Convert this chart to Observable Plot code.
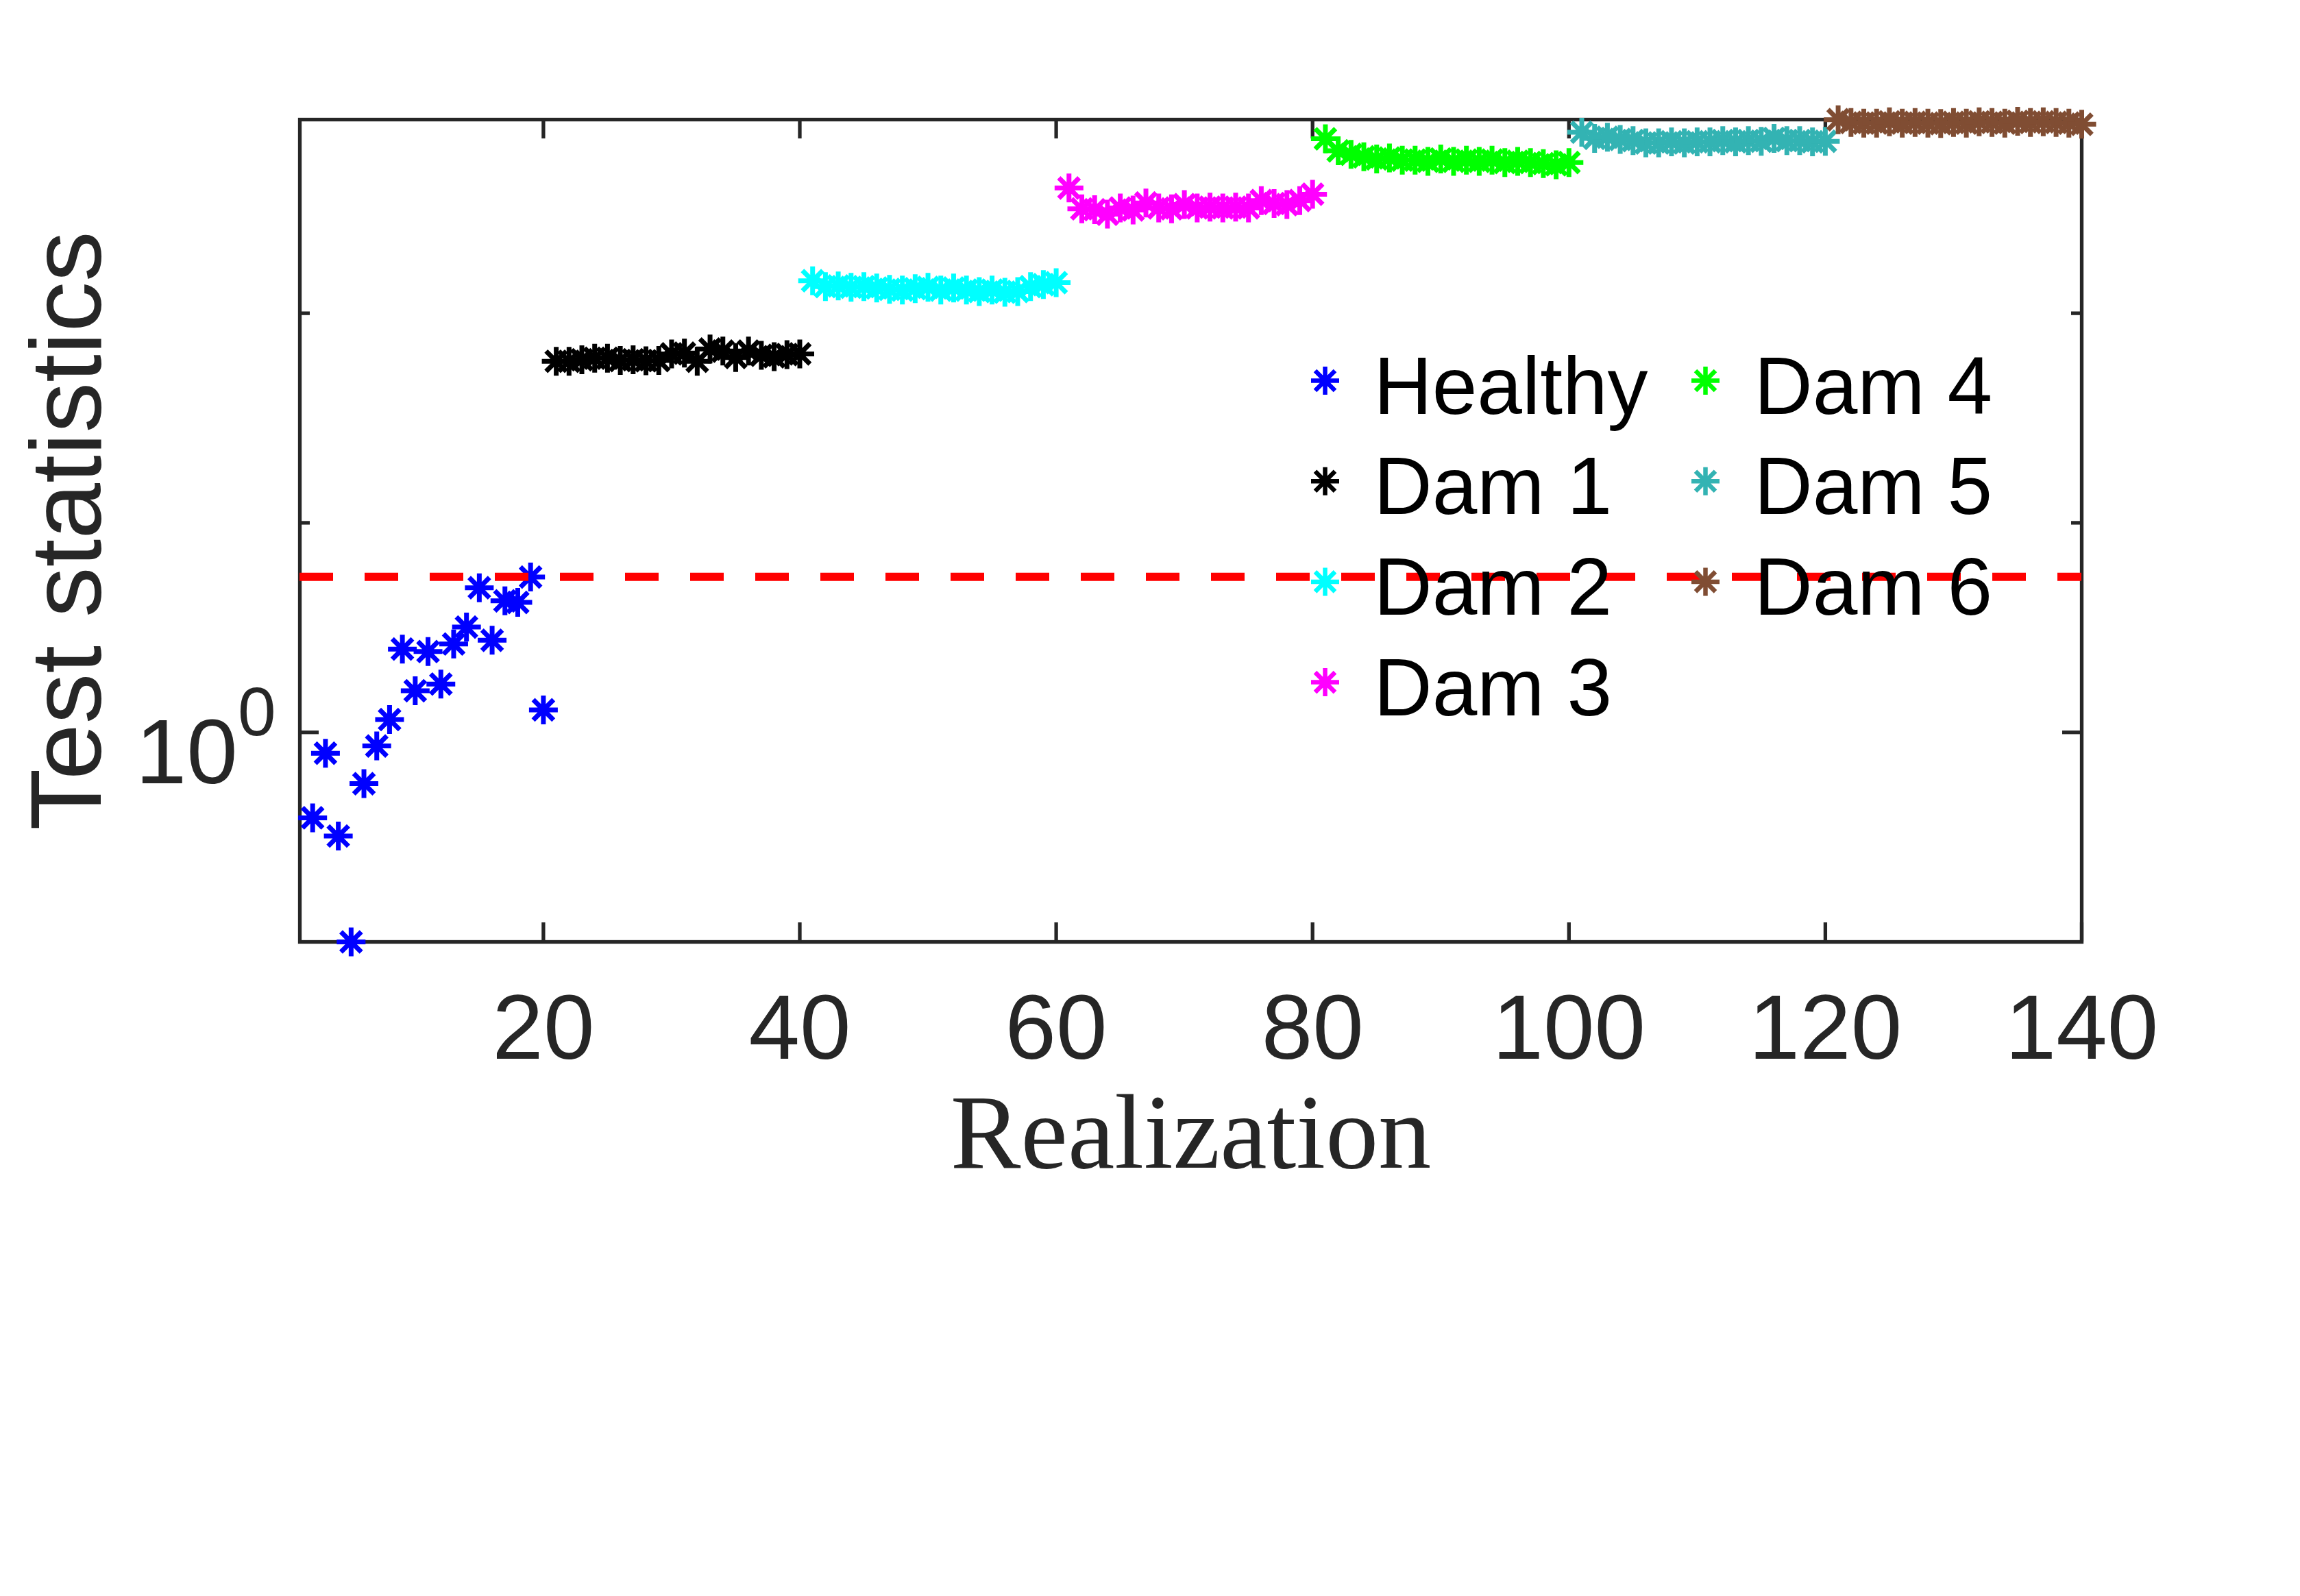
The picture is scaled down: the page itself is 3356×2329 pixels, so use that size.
<!DOCTYPE html>
<html>
<head>
<meta charset="utf-8">
<script src="https://cdn.jsdelivr.net/npm/d3@7"></script>
<script src="https://cdn.jsdelivr.net/npm/@observablehq/plot@0.6"></script>
<style>
  html, body { margin: 0; padding: 0; background: #ffffff; }
  #chart svg { display: block; }
</style>
</head>
<body>
<div id="chart"></div>
<script>
// ---------------- data ----------------
const seriesNames  = ["Healthy", "Dam 1", "Dam 2", "Dam 3", "Dam 4", "Dam 5", "Dam 6"];
const seriesColors = ["#0000ff", "#000000", "#00ffff", "#ff00ff", "#00ff00", "#33b3b3", "#804d33"];
const seriesStart  = [2, 21, 41, 61, 81, 101, 121]; // first realization index of each series

const healthy = [0.391, 0.795, 0.320, 0.100, 0.569, 0.861, 1.151, 2.497, 1.58, 2.43,
                 1.70, 2.64, 3.18, 4.90, 2.75, 4.24, 4.17, 5.51, 1.28];
const dam1 = [59.0, 59.0, 60, 61, 61, 59.5, 60, 59.3, 59.5, 64,
              64.5, 59, 67.5, 66, 61.5, 66, 63, 62, 63.5, 64];
const dam2 = [143, 134, 135, 133, 134, 132, 130, 129, 131, 133,
              129, 132, 129, 127, 129, 126, 127, 134, 137, 140];
const dam3 = [396, 315, 312, 297, 318, 311, 336, 318, 315, 330,
              318, 321, 318, 321, 318, 345, 334, 330, 345, 370];
const dam4 = [680, 596, 573, 558, 545, 551, 538, 538, 531, 545,
              531, 538, 531, 538, 524, 531, 524, 518, 511, 524];
const dam5 = [731, 683, 692, 675, 667, 650, 650, 658, 650, 658,
              658, 667, 658, 667, 662, 683, 667, 667, 658, 662];
const dam6 = [839, 814, 808, 808, 820, 808, 814, 808, 804, 814,
              808, 820, 814, 808, 824, 814, 820, 814, 808, 798];
const seriesValues = [healthy, dam1, dam2, dam3, dam4, dam5, dam6];

const threshold   = [5.52];
const xDomain     = [1, 140];
const yDomain     = [0.1, 840];
const xTicks      = [20, 40, 60, 80, 100, 120, 140];
const yMajorTicks = [1];
const yMinorTicks = [10, 100];
const xLabel = "Realization";
const yLabel = "Test statistics";

// ---------------- table ----------------
const rows = seriesValues.flatMap((vals, s) =>
  vals.map((v, i) => ({x: seriesStart[s] + i, y: v, series: seriesNames[s]})));

// ---------------- layout ----------------
const W = 3356, H = 2329;
const mL = 437, mR = 319, mT = 174, mB = 955;
const pw = W - mL - mR, ph = H - mT - mB;
const ink = "#262626";
const axisW = 5.3;

// MATLAB-style '*' marker: four crossing strokes
const star = {
  draw(ctx, size) {
    const r = Math.sqrt(size / Math.PI);
    const d = r * Math.SQRT1_2;
    ctx.moveTo(-r, 0); ctx.lineTo(r, 0);
    ctx.moveTo(0, -r); ctx.lineTo(0, r);
    ctx.moveTo(-d, -d); ctx.lineTo(d, d);
    ctx.moveTo(-d, d); ctx.lineTo(d, -d);
  }
};

const legendMarks = seriesNames.flatMap((name, i) => {
  const col = Math.floor(i / 4), row = i % 4;
  const dx0 = 1496 + col * 555, dy0 = 381 + row * 146.7;
  return [
    Plot.dot([name], {frameAnchor: "top-left", dx: dx0, dy: dy0, symbol: star, r: 20.5,
      stroke: d => d, fill: "none", strokeWidth: 6.5, strokeLinecap: "butt"}),
    Plot.text([name], {frameAnchor: "top-left", dx: dx0 + 71, dy: dy0 + 48, text: d => d,
      textAnchor: "start", lineAnchor: "bottom", fontSize: 118, fill: "#000000"})
  ];
});

const chart = Plot.plot({
  width: W, height: H,
  marginLeft: mL, marginRight: mR, marginTop: mT, marginBottom: mB,
  style: {fontFamily: "Liberation Sans", background: "#ffffff", overflow: "visible"},
  x: {domain: xDomain},
  y: {type: "log", domain: yDomain},
  color: {type: "ordinal", domain: seriesNames, range: seriesColors},
  marks: [
    Plot.frame({stroke: ink, strokeWidth: axisW}),
    // inward ticks
    Plot.tickX(xTicks, {x: d => d, stroke: ink, strokeWidth: axisW, insetTop: ph - 28}),
    Plot.tickX(xTicks, {x: d => d, stroke: ink, strokeWidth: axisW, insetBottom: ph - 28}),
    Plot.tickY(yMajorTicks, {y: d => d, stroke: ink, strokeWidth: axisW, insetRight: pw - 28}),
    Plot.tickY(yMajorTicks, {y: d => d, stroke: ink, strokeWidth: axisW, insetLeft: pw - 28}),
    Plot.tickY(yMinorTicks, {y: d => d, stroke: ink, strokeWidth: axisW, insetRight: pw - 15}),
    Plot.tickY(yMinorTicks, {y: d => d, stroke: ink, strokeWidth: axisW, insetLeft: pw - 15}),
    Plot.axisX({ticks: xTicks, tickSize: 0, tickPadding: 75, fontSize: 134, fill: ink, label: null}),
    Plot.axisY({ticks: yMajorTicks, tickSize: 0, tickPadding: 35, fontSize: 134, fill: ink, dy: 31,
      label: null, tickFormat: d => String(Math.round(Math.log10(d)))}),
    // data
    Plot.dot(rows, {x: "x", y: "y", stroke: "series", symbol: star, r: 21, fill: "none",
      strokeWidth: 7, strokeLinecap: "butt"}),
    Plot.ruleY(threshold, {y: d => d, stroke: "#ff0000", strokeWidth: 12, strokeDasharray: "49,46"}),
    // axis titles
    Plot.text([xLabel], {frameAnchor: "bottom", dy: 329, lineAnchor: "bottom", textAnchor: "middle",
      text: d => d, fontSize: 154, fontFamily: "Liberation Serif", fill: ink, ariaLabel: "x-label"}),
    Plot.text([yLabel], {frameAnchor: "left", dx: -291, rotate: -90, lineAnchor: "bottom",
      textAnchor: "middle", text: d => d, fontSize: 147, fill: ink}),
    ...legendMarks
  ]
});

// render "10^k" tick labels with a real superscript
d3.select(chart).selectAll('g[aria-label="y-axis tick label"] text').each(function () {
  const e = this.textContent;
  const t = d3.select(this);
  t.text("");
  t.append("tspan").text("10");
  t.append("tspan").attr("dy", -70).attr("font-size", 100).text(e);
});
d3.select(chart).selectAll('g[aria-label="x-label"] text').attr("letter-spacing", 7.5);

document.getElementById("chart").appendChild(chart);
</script>
</body>
</html>
